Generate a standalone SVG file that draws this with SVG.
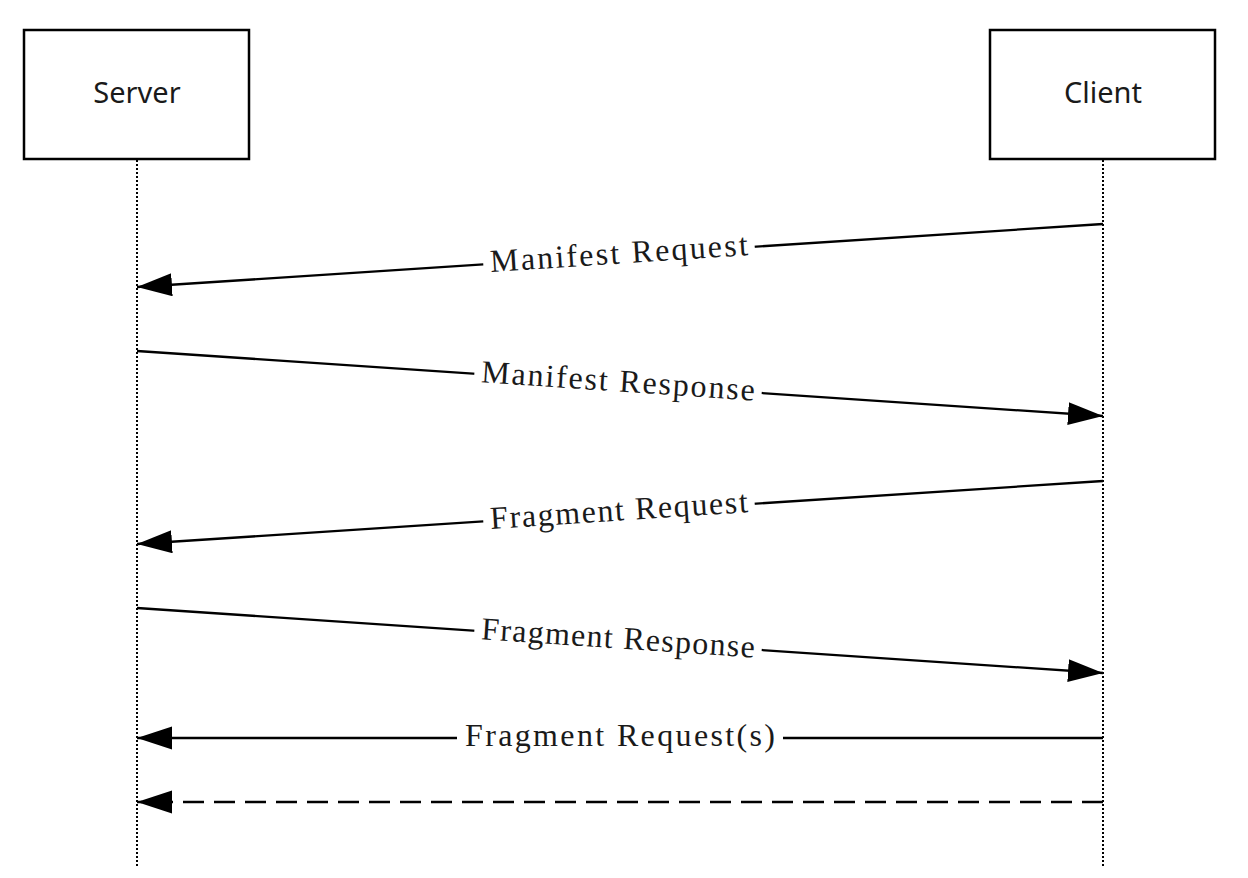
<svg xmlns="http://www.w3.org/2000/svg" width="1248" height="878" viewBox="0 0 1248 878">
<style>
.box{fill:#fff;stroke:#000;stroke-width:2.5}
.name{font-family:"Noto Sans","Open Sans",sans-serif;font-size:29px;fill:#1a1a1a;text-anchor:middle}
.life{stroke:#000;stroke-width:2;stroke-dasharray:2,2;fill:none}
.msg{stroke:#000;stroke-width:2.3;fill:none}
.dash{stroke-dasharray:21,10}
.lbl{font-family:"Liberation Serif","Times New Roman",serif;font-size:32px;fill:#1a1a1a;text-anchor:middle}
.bg{fill:#fff}
</style>
<defs>
<marker id="ah" markerUnits="userSpaceOnUse" markerWidth="36" markerHeight="24" refX="35" refY="11.5" orient="auto">
<path d="M0,0 L35,11.5 L0,23 Z" fill="#000"/>
</marker>
</defs>
<g id="server">
<rect class="box" x="24" y="30" width="225" height="129"/>
<text class="name" x="137" y="103">Server</text>
</g>
<g id="client">
<rect class="box" x="990" y="30" width="225" height="129"/>
<text class="name" x="1103" y="103">Client</text>
</g>
<g id="lifelines">
<line class="life" x1="137" y1="160" x2="137" y2="866"/>
<line class="life" x1="1103" y1="160" x2="1103" y2="866"/>
</g>
<g id="connectors">
<line class="msg" x1="1103" y1="224" x2="137" y2="287" marker-end="url(#ah)"/>
<g transform="translate(619,255.6) rotate(-3.73)">
<rect class="bg" x="-136" y="-16" width="272" height="30"/>
<text class="lbl" x="0" y="8" textLength="258" lengthAdjust="spacing">Manifest Request</text>
</g>
<line class="msg" x1="137" y1="351" x2="1103" y2="416" marker-end="url(#ah)"/>
<g transform="translate(618,383.4) rotate(3.85)">
<rect class="bg" x="-144" y="-16" width="288" height="30"/>
<text class="lbl" x="0" y="8" textLength="274" lengthAdjust="spacing">Manifest Response</text>
</g>
<line class="msg" x1="1103" y1="481" x2="137" y2="544" marker-end="url(#ah)"/>
<g transform="translate(619,512.6) rotate(-3.73)">
<rect class="bg" x="-136" y="-16" width="272" height="30"/>
<text class="lbl" x="0" y="8" textLength="258" lengthAdjust="spacing">Fragment Request</text>
</g>
<line class="msg" x1="137" y1="608" x2="1103" y2="673" marker-end="url(#ah)"/>
<g transform="translate(618,640.4) rotate(3.85)">
<rect class="bg" x="-144" y="-16" width="288" height="30"/>
<text class="lbl" x="0" y="8" textLength="274" lengthAdjust="spacing">Fragment Response</text>
</g>
<line class="msg" x1="1103" y1="738" x2="137" y2="738" marker-end="url(#ah)"/>
<g transform="translate(620,738)">
<rect class="bg" x="-163" y="-16" width="326" height="30"/>
<text class="lbl" x="0" y="8" textLength="310" lengthAdjust="spacing">Fragment Request(s)</text>
</g>
<line class="msg dash" x1="1103" y1="802" x2="137" y2="802" marker-end="url(#ah)"/>
</g>
</svg>
